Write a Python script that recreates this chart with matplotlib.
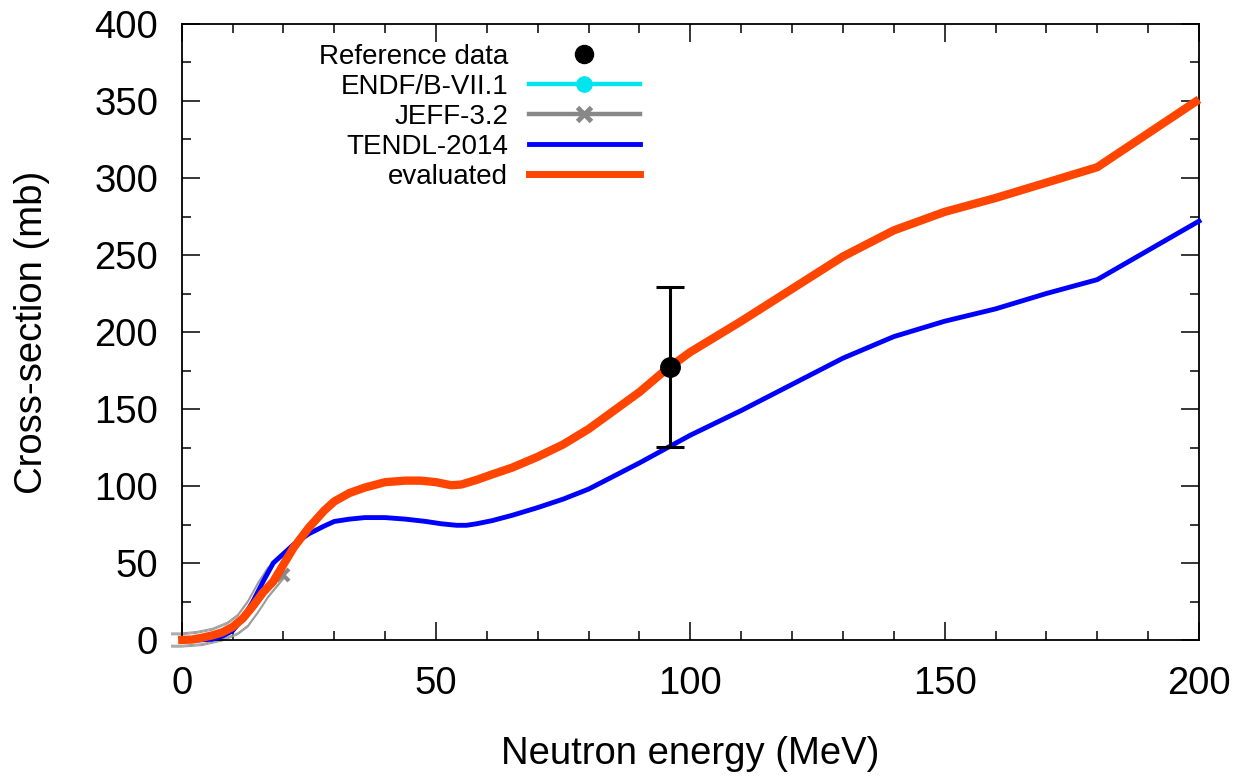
import matplotlib
matplotlib.use("Agg")
import matplotlib.pyplot as plt
from matplotlib.ticker import MultipleLocator
from matplotlib.lines import Line2D

plt.rcParams['font.family'] = ['Liberation Sans', 'DejaVu Sans']

# Evaluated cross-section
E_eval = [-0.7, 2, 4, 6, 8, 10, 12, 14, 16, 18, 20, 22, 25, 28, 30, 33, 36, 40, 44, 47,
          50, 53, 55, 58, 61, 65, 70, 75, 80, 85, 90, 95, 100, 110, 120, 130, 140, 150,
          160, 170, 180, 190, 200]
xs_eval = [0, 0.3, 1.5, 3, 5, 8.5, 14, 22, 31, 38, 49, 60, 73, 84, 90, 95.5, 99, 102.5,
           103.5, 103.5, 102.5, 100.5, 101, 104, 107.5, 112, 119, 127, 137, 149, 161,
           175, 187, 207, 228, 249, 266, 278, 287, 297, 307, 329, 351]

# TENDL-2014
E_tendl = [0, 3, 6, 8, 10, 12, 14, 16, 18, 20, 22, 25, 28, 30, 33, 36, 40, 44, 48, 51,
           54, 56, 58, 61, 65, 70, 75, 80, 85, 90, 95, 100, 110, 120, 130, 140, 150, 160,
           170, 180, 190, 200]
xs_tendl = [0, 0, 0.5, 2.5, 6, 14, 25, 38, 50, 56, 62, 69, 74, 77, 78.5, 79.5, 79.5,
            78.5, 77, 75.5, 74.5, 74.5, 75.5, 77.5, 81, 86, 91.5, 98, 106.5, 115, 124,
            133, 149, 166, 183, 197, 207, 215, 225, 234, 253, 272]

# JEFF-3.2 (up to 20 MeV) and its uncertainty band
E_jeff = [0, 4, 8, 10, 12, 14, 16, 18, 20]
xs_jeff = [0, 1.5, 5, 8.5, 14, 22, 31, 38, 42]
E_band_hi = [-2, 0, 3, 6, 9, 11, 13, 15, 17]
xs_band_hi = [4, 4, 5, 7, 11, 16, 25, 37, 47]
E_band_lo = [-2, 0, 4, 8, 11, 13, 15, 17, 19, 20]
xs_band_lo = [-4, -4, -3, 0, 4, 9, 18, 28, 36, 40]

# ENDF/B-VII.1 (no points in view)
E_endf = []
xs_endf = []

# Reference data
E_ref = [96]
xs_ref = [177.5]
err_ref = [52]

FS = 27.5

fig = plt.figure(figsize=(12.48, 7.79), dpi=100)
ax = fig.add_axes([0.1456, 0.1784, 0.8151, 0.7908])

for dy in (-0.6, 0.0, 0.6):
    ax.plot(E_band_hi, [v + dy for v in xs_band_hi], color='#999999', lw=0.7, clip_on=False, zorder=2)
    ax.plot(E_band_lo, [v + dy for v in xs_band_lo], color='#999999', lw=0.7, clip_on=False, zorder=2)

ax.plot(E_endf, xs_endf, color='#00e5ee', lw=3, marker='o', ms=10, label='ENDF/B-VII.1', zorder=3)
ax.plot(E_jeff, xs_jeff, color='#888888', lw=3, marker='x', ms=9, mew=3, markevery=[len(E_jeff) - 1],
        label='JEFF-3.2', zorder=3, clip_on=False)
ax.plot(E_tendl, xs_tendl, color='#0000ff', lw=3.5, label='TENDL-2014', zorder=4, clip_on=False)
ax.plot(E_eval, xs_eval, color='#ff4500', lw=6, label='evaluated', zorder=5, clip_on=False,
        solid_capstyle='butt')
ax.errorbar(E_ref, xs_ref, yerr=err_ref, fmt='o', color='black', ms=14, elinewidth=2.2,
            capsize=10, capthick=2.2, zorder=6, label='Reference data')

ax.set_xlim(0, 200)
ax.set_ylim(0, 400)
ax.xaxis.set_major_locator(MultipleLocator(50))
ax.xaxis.set_minor_locator(MultipleLocator(10))
ax.yaxis.set_major_locator(MultipleLocator(50))
ax.yaxis.set_minor_locator(MultipleLocator(25))
ax.tick_params(which='both', direction='in', top=True, right=True, labelsize=FS, width=1.1)
ax.tick_params(which='major', length=13)
ax.tick_params(which='minor', length=6.5)
ax.tick_params(axis='x', which='major', pad=19)
ax.tick_params(axis='y', which='major', pad=17)
for s in ax.spines.values():
    s.set_linewidth(1.3)

ax.set_xlabel('Neutron energy (MeV)', fontsize=FS, labelpad=24)
ax.set_ylabel('Cross-section (mb)', fontsize=FS, labelpad=32)

h_ref = Line2D([], [], ls='none', marker='o', color='black', ms=13)
h_endf = Line2D([], [], color='#00e5ee', lw=3.2, marker='o', ms=11)
h_jeff = Line2D([], [], color='#888888', lw=3.2, marker='x', ms=10, mew=3.5)
h_tendl = Line2D([], [], color='#0000ff', lw=3.5)
h_eval = Line2D([], [], color='#ff4500', lw=5)
labels = ['Reference data', 'ENDF/B-VII.1', 'JEFF-3.2', 'TENDL-2014', 'evaluated']
leg = ax.legend([h_ref, h_endf, h_jeff, h_tendl, h_eval], labels,
                loc='upper right', bbox_to_anchor=(640 / 1248, 1 - 44 / 779),
                bbox_transform=fig.transFigure, frameon=False, markerfirst=False,
                fontsize=20, handlelength=4.0, handletextpad=0.75, labelspacing=0.14,
                borderpad=0, borderaxespad=0, numpoints=1)

fig.savefig('out.png', dpi=100)
